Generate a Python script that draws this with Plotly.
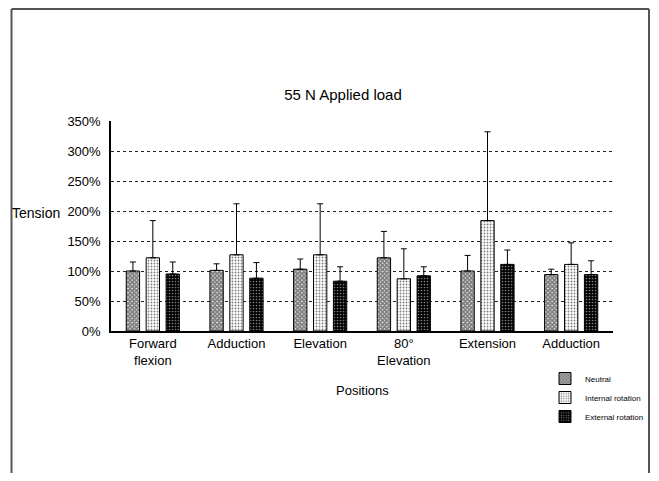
import plotly.graph_objects as go

positions = ["Forward<br>flexion", "Adduction", "Elevation", "80°<br>Elevation", "Extension", "Adduction"]
series_names = ["Neutral", "Internal rotation", "External rotation"]
neutral = [100, 101, 103, 122, 100, 94]
neutral_err = [15, 11, 17, 44, 26, 9]
internal = [122, 127, 127, 87, 184, 111]
internal_err = [62, 85, 85, 50, 148, 36]
external = [95, 88, 83, 92, 111, 94]
external_err = [20, 26, 24, 15, 24, 23]
y_ticks = [0, 50, 100, 150, 200, 250, 300, 350]
y_ticklabels = [f"{v}%" for v in y_ticks]

xidx = list(range(len(positions)))
FONT = "Liberation Sans, Arial, sans-serif"

# page has 8px body margin -> figure coords = page coords - 8
W, H = 643, 465
L, T, PW, PH = 103, 113, 502, 210
R = W - L - PW
B = H - T - PH


def px(xfig):
    return (xfig - L) / PW


def py(yfig):
    return (T + PH - yfig) / PH


patterns = [
    dict(shape="x", fgcolor="black", bgcolor="white", size=3, solidity=0.85),
    dict(shape=".", fgcolor="black", bgcolor="white", size=3, solidity=0.3),
    dict(shape=".", fgcolor="white", bgcolor="black", size=3, solidity=0.25),
]

fig = go.Figure()
for name, vals, errs, pat in zip(series_names, [neutral, internal, external],
                                 [neutral_err, internal_err, external_err], patterns):
    fig.add_trace(go.Bar(
        x=xidx, y=vals, name=name,
        marker=dict(color="white", pattern=pat, line=dict(color="black", width=1)),
        error_y=dict(type="data", array=errs, arrayminus=[0] * len(errs), symmetric=False,
                     color="black", thickness=1, width=3),
    ))

fig.update_layout(
    width=W, height=H,
    margin=dict(l=L, r=R, t=T, b=B, autoexpand=False),
    paper_bgcolor="white", plot_bgcolor="white",
    barmode="group", bargap=0.286, bargroupgap=0.33,
    font=dict(family=FONT, size=13, color="black"),
    title=dict(text="55 N Applied load", xref="container", yref="container",
               x=335 / W, xanchor="center", y=1 - 87 / H, yanchor="middle",
               font=dict(size=15, family=FONT)),
    showlegend=True,
    legend=dict(xref="container", yref="container",
                x=537 / W, y=1 - 356 / H, xanchor="left", yanchor="top",
                font=dict(size=8, family=FONT), bgcolor="rgba(0,0,0,0)",
                itemwidth=30, tracegroupgap=0),
    xaxis=dict(tickmode="array", tickvals=xidx, ticktext=positions, range=[-0.5, 5.5],
               showline=True, linecolor="black", linewidth=1.5, ticks="",
               showgrid=False, zeroline=False, tickfont=dict(size=13)),
    yaxis=dict(range=[0, 350], tickmode="array", tickvals=y_ticks, ticktext=y_ticklabels,
               showline=True, linecolor="black", linewidth=1.5, ticks="",
               showgrid=True, gridcolor="#222222", griddash="dot", gridwidth=1,
               zeroline=False, tickfont=dict(size=13), ticklabelstandoff=6),
)

fig.add_annotation(text="Tension", xref="paper", yref="paper",
                   x=px(2), y=py(205), xanchor="left", yanchor="middle",
                   showarrow=False, font=dict(size=14, family=FONT))
fig.add_annotation(text="Positions", xref="paper", yref="paper",
                   x=0.5, y=py(382), xanchor="center", yanchor="middle",
                   showarrow=False, font=dict(size=13, family=FONT))

# outer frame (partially cropped in original): left, top, right edges
frame = dict(color="#555555", width=2)
fig.add_shape(type="line", xref="paper", yref="paper",
              x0=px(3.5), x1=px(3.5), y0=py(490), y1=py(1), line=frame, layer="below")
fig.add_shape(type="line", xref="paper", yref="paper",
              x0=px(3.5), x1=px(641), y0=py(1), y1=py(1), line=frame, layer="below")
fig.add_shape(type="line", xref="paper", yref="paper",
              x0=px(641), x1=px(641), y0=py(490), y1=py(1), line=frame, layer="below")

fig.write_html("out.html")
